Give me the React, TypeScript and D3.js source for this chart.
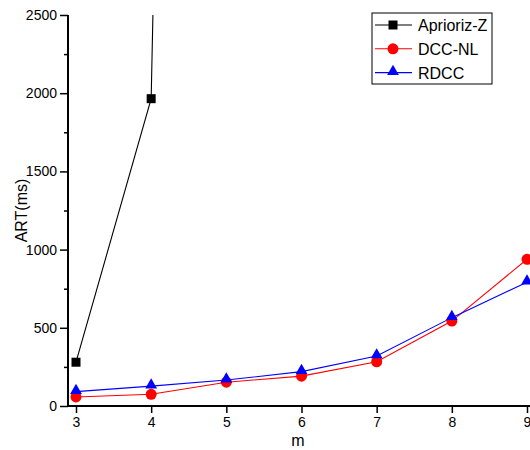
import * as d3 from 'd3';
import { useEffect, useRef } from 'react';

const mValues = [3, 4, 5, 6, 7, 8, 9];
const aprioriZ = [280, 1965, 25000];
const dccNL = [58, 75, 152, 191, 283, 543, 938];
const rdcc = [92, 127, 166, 220, 320, 565, 792];
const yTicks = [0, 500, 1000, 1500, 2000, 2500];
const yMinorTicks = [250, 750, 1250, 1750, 2250];

const width = 530;
const height = 450;
const axisLeftX = 68;
const axisBottomY = 406;
const plotTop = 15;
const font = 'Liberation Sans, Arial, sans-serif';

const series = [
    { name: 'Aprioriz-Z', values: aprioriZ, color: '#000000', marker: 'square' },
    { name: 'DCC-NL', values: dccNL, color: '#ff0000', marker: 'circle' },
    { name: 'RDCC', values: rdcc, color: '#0000ff', marker: 'triangle' },
];

function App() {
    const xAxis = useRef(null);
    const yAxis = useRef(null);
    const yMinor = useRef(null);

    const xScale = d3.scaleLinear().domain([3, 9]).range([76, 527]);
    const yScale = d3.scaleLinear().domain([0, 2500]).range([axisBottomY, plotTop]);

    useEffect(() => {
        const ax = d3.axisBottom(xScale).tickValues(mValues).tickFormat(d3.format('d'))
            .tickSize(7).tickSizeOuter(0).tickPadding(4);
        const xg = d3.select(xAxis.current).call(ax);
        xg.select('.domain').remove();
        xg.attr('font-family', font);
        xg.selectAll('.tick line').attr('stroke-width', 1.5);
        xg.selectAll('text').attr('font-size', 14).attr('fill', '#000');

        const ay = d3.axisLeft(yScale).tickValues(yTicks).tickFormat(d3.format('d'))
            .tickSize(8).tickSizeOuter(0).tickPadding(3);
        const yg = d3.select(yAxis.current).call(ay);
        yg.select('.domain').remove();
        yg.attr('font-family', font);
        yg.selectAll('.tick line').attr('stroke-width', 1.5);
        yg.selectAll('text').attr('font-size', 14).attr('fill', '#000');

        const my = d3.axisLeft(yScale).tickValues(yMinorTicks).tickSize(4).tickFormat(() => '');
        const mg = d3.select(yMinor.current).call(my);
        mg.select('.domain').remove();
        mg.selectAll('.tick line').attr('stroke-width', 1.5);
    }, []);

    const line = d3.line<number>()
        .x((d, i) => xScale(mValues[i]))
        .y((d) => yScale(d));

    const marker = (type: string, cx: number, cy: number, color: string, key: any) => {
        if (type === 'square') {
            return <rect key={key} x={cx - 4.5} y={cy - 4.5} width={9} height={9} fill={color} />;
        }
        if (type === 'circle') {
            return <circle key={key} cx={cx} cy={cy} r={5.5} fill={color} />;
        }
        const sym = d3.symbol().type(d3.symbolTriangle).size(60)();
        return <path key={key} d={sym || ''} transform={`translate(${cx},${cy - 1})`} fill={color} />;
    };

    const legendX = 372;
    const legendY = 13;

    return (
        <div style={{ position: 'absolute', left: 0, top: 0 }}>
            <svg width={width} height={height} style={{ display: 'block', background: '#fff' }}
                fontFamily={font}>
                <defs>
                    <clipPath id='plot-clip'>
                        <rect x={axisLeftX} y={plotTop} width={width} height={axisBottomY - plotTop} />
                    </clipPath>
                </defs>
                <g clipPath='url(#plot-clip)'>
                    {series.map((s) => (
                        <path key={s.name} d={line(s.values) || ''} fill='none' stroke={s.color} strokeWidth={1.1} />
                    ))}
                </g>
                {series.map((s) =>
                    s.values.map((v, i) => {
                        const cy = yScale(v);
                        if (cy < plotTop) return null;
                        return marker(s.marker, xScale(mValues[i]), cy, s.color, s.name + i);
                    })
                )}
                {/* axis lines */}
                <line x1={axisLeftX} x2={axisLeftX} y1={plotTop} y2={axisBottomY + 1} stroke='#000' strokeWidth={2} />
                <line x1={axisLeftX - 1} x2={width} y1={axisBottomY} y2={axisBottomY} stroke='#000' strokeWidth={2} />
                <g ref={xAxis} transform={`translate(0, ${axisBottomY})`} />
                <g ref={yAxis} transform={`translate(${axisLeftX}, 0)`} />
                <g ref={yMinor} transform={`translate(${axisLeftX}, 0)`} />
                <text x={298} y={446} textAnchor='middle' fontSize={16}>m</text>
                <text transform={`translate(27, ${yScale(1250)}) rotate(-90)`} textAnchor='middle' fontSize={16}>ART(ms)</text>
                {/* legend */}
                <rect x={legendX} y={legendY} width={120} height={71} fill='#fff' stroke='#000' strokeWidth={1} />
                {series.map((s, i) => {
                    const ly = legendY + 12 + i * 23.8;
                    return (
                        <g key={s.name}>
                            <line x1={legendX + 3} x2={legendX + 40} y1={ly} y2={ly} stroke={s.color} strokeWidth={1.1} />
                            {marker(s.marker, legendX + 21, ly, s.color, 'lg' + i)}
                            <text x={legendX + 46} y={ly + 6} fontSize={16}>{s.name}</text>
                        </g>
                    );
                })}
            </svg>
        </div>
    );
}

export default App;
